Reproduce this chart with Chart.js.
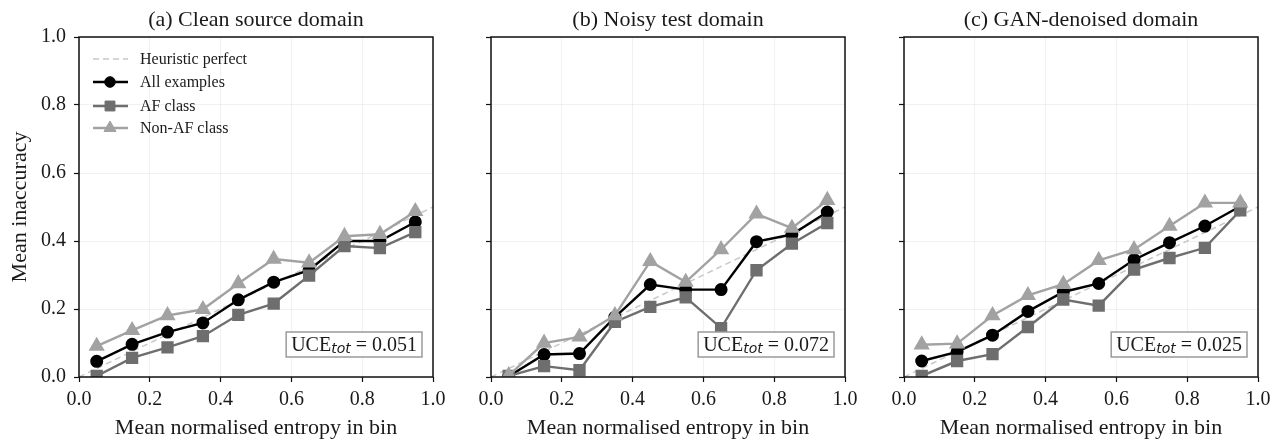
<!DOCTYPE html>
<html>
<head>
<meta charset="utf-8">
<script src="https://cdn.jsdelivr.net/npm/chart.js@4.4.0/dist/chart.umd.min.js"></script>
<style>
html, body { margin: 0; padding: 0; background: #fff; }
#wrap { position: relative; width: 1279px; height: 443px; overflow: hidden; }
#wrap canvas { position: absolute; top: 0; }
</style>
</head>
<body>
<div id="wrap">
  <canvas id="panelA" width="453" height="443" style="left:0px"></canvas>
  <canvas id="panelB" width="453" height="443" style="left:412px"></canvas>
  <canvas id="panelC" width="453" height="443" style="left:825px"></canvas>
</div>
<script>
// bin centres on the x axis
var binCentres = [0.05, 0.15, 0.25, 0.35, 0.45, 0.55, 0.65, 0.75, 0.85, 0.95];
var xTicks = [0, 0.2, 0.4, 0.6, 0.8, 1.0];

var panelTitles = ['(a) Clean source domain', '(b) Noisy test domain', '(c) GAN-denoised domain'];
var uceValues = ['0.051', '0.072', '0.025'];
var seriesNames = ['Heuristic perfect', 'All examples', 'AF class', 'Non-AF class'];

// heuristic perfect line end points
var perfectX = [0, 1];
var perfectY = [0, 0.5];

// (a) clean source domain
var allClean    = [0.046, 0.096, 0.132, 0.159, 0.227, 0.279, 0.314, 0.400, 0.400, 0.456];
var afClean     = [0.003, 0.056, 0.087, 0.120, 0.183, 0.216, 0.298, 0.385, 0.379, 0.426];
var nonAfClean  = [0.091, 0.137, 0.181, 0.199, 0.275, 0.347, 0.336, 0.414, 0.420, 0.487];

// (b) noisy test domain
var allNoisy    = [0.002, 0.066, 0.069, 0.176, 0.272, 0.257, 0.257, 0.398, 0.419, 0.485];
var afNoisy     = [0.003, 0.032, 0.020, 0.162, 0.206, 0.234, 0.144, 0.314, 0.392, 0.453];
var nonAfNoisy  = [0.005, 0.100, 0.118, 0.181, 0.340, 0.279, 0.375, 0.480, 0.438, 0.520];

// (c) GAN-denoised domain
var allGan      = [0.047, 0.074, 0.123, 0.193, 0.250, 0.275, 0.345, 0.395, 0.444, 0.502];
var afGan       = [0.003, 0.047, 0.067, 0.147, 0.228, 0.210, 0.316, 0.350, 0.380, 0.490];
var nonAfGan    = [0.095, 0.098, 0.181, 0.240, 0.273, 0.343, 0.375, 0.444, 0.512, 0.512];

var serifFont = "'Liberation Serif', 'Times New Roman', serif";
Chart.defaults.font.family = serifFont;
Chart.defaults.color = '#1a1a1a';

var colAll = '#000000';
var colAf = '#6e6e6e';
var colNonAf = '#a2a2a2';
var colPerfect = '#c8c8c8';

function toPoints(xs, ys) {
    var pts = [];
    for (var i = 0; i < xs.length; i++) {
        pts.push({ x: xs[i], y: ys[i] });
    }
    return pts;
}

// titles, frame, legend and UCE box
var panelDecor = {
    id: 'panelDecor',
    afterDraw: function(chart) {
        var o = chart.options.plugins.panelDecor;
        var a = chart.chartArea;
        var ctx = chart.ctx;
        ctx.save();

        // panel title
        ctx.fillStyle = '#1a1a1a';
        ctx.font = '22px ' + serifFont;
        ctx.textAlign = 'center';
        ctx.textBaseline = 'alphabetic';
        ctx.fillText(o.title, (a.left + a.right) / 2, a.top - 11);

        // frame
        ctx.strokeStyle = '#111';
        ctx.lineWidth = 1.5;
        ctx.strokeRect(a.left, a.top, a.right - a.left, a.bottom - a.top);

        // UCE box
        var mainFont = '20px ' + serifFont;
        var subFont = 'italic 14px "DejaVu Sans", sans-serif';
        ctx.font = mainFont;
        var w1 = ctx.measureText('UCE').width;
        var w3 = ctx.measureText(' = ' + o.uce).width;
        ctx.font = subFont;
        var w2 = ctx.measureText('tot').width;
        var boxW = w1 + w2 + w3 + 10;
        var boxH = 25;
        var bx = a.right - 11 - boxW;
        var by = a.bottom - 20 - boxH;
        ctx.fillStyle = '#fff';
        ctx.fillRect(bx, by, boxW, boxH);
        ctx.strokeStyle = '#9a9a9a';
        ctx.lineWidth = 1.5;
        ctx.strokeRect(bx, by, boxW, boxH);
        ctx.fillStyle = '#1a1a1a';
        ctx.textAlign = 'left';
        ctx.font = mainFont;
        ctx.fillText('UCE', bx + 5, by + boxH - 6);
        ctx.font = subFont;
        ctx.fillText('tot', bx + 5 + w1, by + boxH - 4);
        ctx.font = mainFont;
        ctx.fillText(' = ' + o.uce, bx + 5 + w1 + w2, by + boxH - 6);

        // legend
        if (o.legend) {
            var rows = [22, 45, 69, 91];
            var ds = chart.data.datasets;
            ctx.font = '16px ' + serifFont;
            ctx.textBaseline = 'middle';
            for (var i = 0; i < ds.length; i++) {
                var y = a.top + rows[i];
                ctx.strokeStyle = ds[i].borderColor;
                ctx.lineWidth = ds[i].borderWidth;
                ctx.setLineDash(ds[i].borderDash || []);
                ctx.beginPath();
                ctx.moveTo(a.left + 14, y);
                ctx.lineTo(a.left + 49, y);
                ctx.stroke();
                ctx.setLineDash([]);
                if (ds[i].pointRadius > 0) {
                    ctx.fillStyle = ds[i].backgroundColor;
                    ctx.strokeStyle = ds[i].borderColor;
                    ctx.lineWidth = 1;
                    Chart.helpers.drawPoint(ctx, {
                        pointStyle: ds[i].pointStyle,
                        radius: ds[i].pointRadius,
                        rotation: 0,
                        borderWidth: 1
                    }, a.left + 31, y);
                }
                ctx.fillStyle = '#1a1a1a';
                ctx.fillText(seriesNames[i], a.left + 61, y + 1);
            }
        }
        ctx.restore();
    }
};

function makePanel(canvasId, idx, allVals, afVals, nonAfVals) {
    var first = idx === 0;
    return new Chart(document.getElementById(canvasId).getContext('2d'), {
        type: 'line',
        data: {
            datasets: [{
                label: seriesNames[0],
                data: toPoints(perfectX, perfectY),
                borderColor: colPerfect,
                backgroundColor: colPerfect,
                borderWidth: 1.5,
                borderDash: [6, 4],
                pointRadius: 0,
                order: 4
            }, {
                label: seriesNames[1],
                data: toPoints(binCentres, allVals),
                borderColor: colAll,
                backgroundColor: colAll,
                borderWidth: 2.4,
                pointStyle: 'circle',
                pointRadius: 5.3,
                order: 3
            }, {
                label: seriesNames[2],
                data: toPoints(binCentres, afVals),
                borderColor: colAf,
                backgroundColor: colAf,
                borderWidth: 2.4,
                pointStyle: 'rect',
                pointRadius: 7,
                order: 2
            }, {
                label: seriesNames[3],
                data: toPoints(binCentres, nonAfVals),
                borderColor: colNonAf,
                backgroundColor: colNonAf,
                borderWidth: 2.4,
                pointStyle: 'triangle',
                pointRadius: 7,
                order: 1
            }]
        },
        options: {
            responsive: false,
            devicePixelRatio: 1,
            animation: false,
            layout: { padding: { top: 37, right: 20, left: 0, bottom: 0 } },
            elements: {
                line: { tension: 0 },
                point: { borderWidth: 1, hoverRadius: 5 }
            },
            scales: {
                x: {
                    type: 'linear',
                    min: 0,
                    max: 1,
                    afterFit: function(scale) { scale.height = 66; },
                    afterBuildTicks: function(scale) {
                        scale.ticks = xTicks.map(function(v) { return { value: v }; });
                    },
                    ticks: {
                        font: { size: 20 },
                        color: '#1a1a1a',
                        padding: 6,
                        maxRotation: 0,
                        callback: function(v) { return v.toFixed(1); }
                    },
                    grid: {
                        color: 'rgba(0,0,0,0.055)',
                        tickColor: '#111',
                        tickLength: 5,
                        tickWidth: 1.2
                    },
                    border: { display: false },
                    title: {
                        display: true,
                        text: 'Mean normalised entropy in bin',
                        font: { size: 22 },
                        color: '#1a1a1a',
                        padding: { top: 0, bottom: 2 }
                    }
                },
                y: {
                    type: 'linear',
                    min: 0,
                    max: 1,
                    afterFit: function(scale) { scale.width = 79; },
                    ticks: {
                        display: first,
                        stepSize: 0.2,
                        font: { size: 20 },
                        color: '#1a1a1a',
                        padding: 8,
                        callback: function(v) { return v.toFixed(1); }
                    },
                    grid: {
                        color: 'rgba(0,0,0,0.055)',
                        tickColor: '#111',
                        tickLength: 5,
                        tickWidth: 1.2
                    },
                    border: { display: false },
                    title: {
                        display: first,
                        text: 'Mean inaccuracy',
                        font: { size: 22 },
                        color: '#1a1a1a',
                        padding: { top: 7, bottom: 0 }
                    }
                }
            },
            plugins: {
                legend: { display: false },
                tooltip: { enabled: false },
                panelDecor: {
                    title: panelTitles[idx],
                    uce: uceValues[idx],
                    legend: first
                }
            }
        },
        plugins: [panelDecor]
    });
}

makePanel('panelA', 0, allClean, afClean, nonAfClean);
makePanel('panelB', 1, allNoisy, afNoisy, nonAfNoisy);
makePanel('panelC', 2, allGan, afGan, nonAfGan);
</script>
</body>
</html>
